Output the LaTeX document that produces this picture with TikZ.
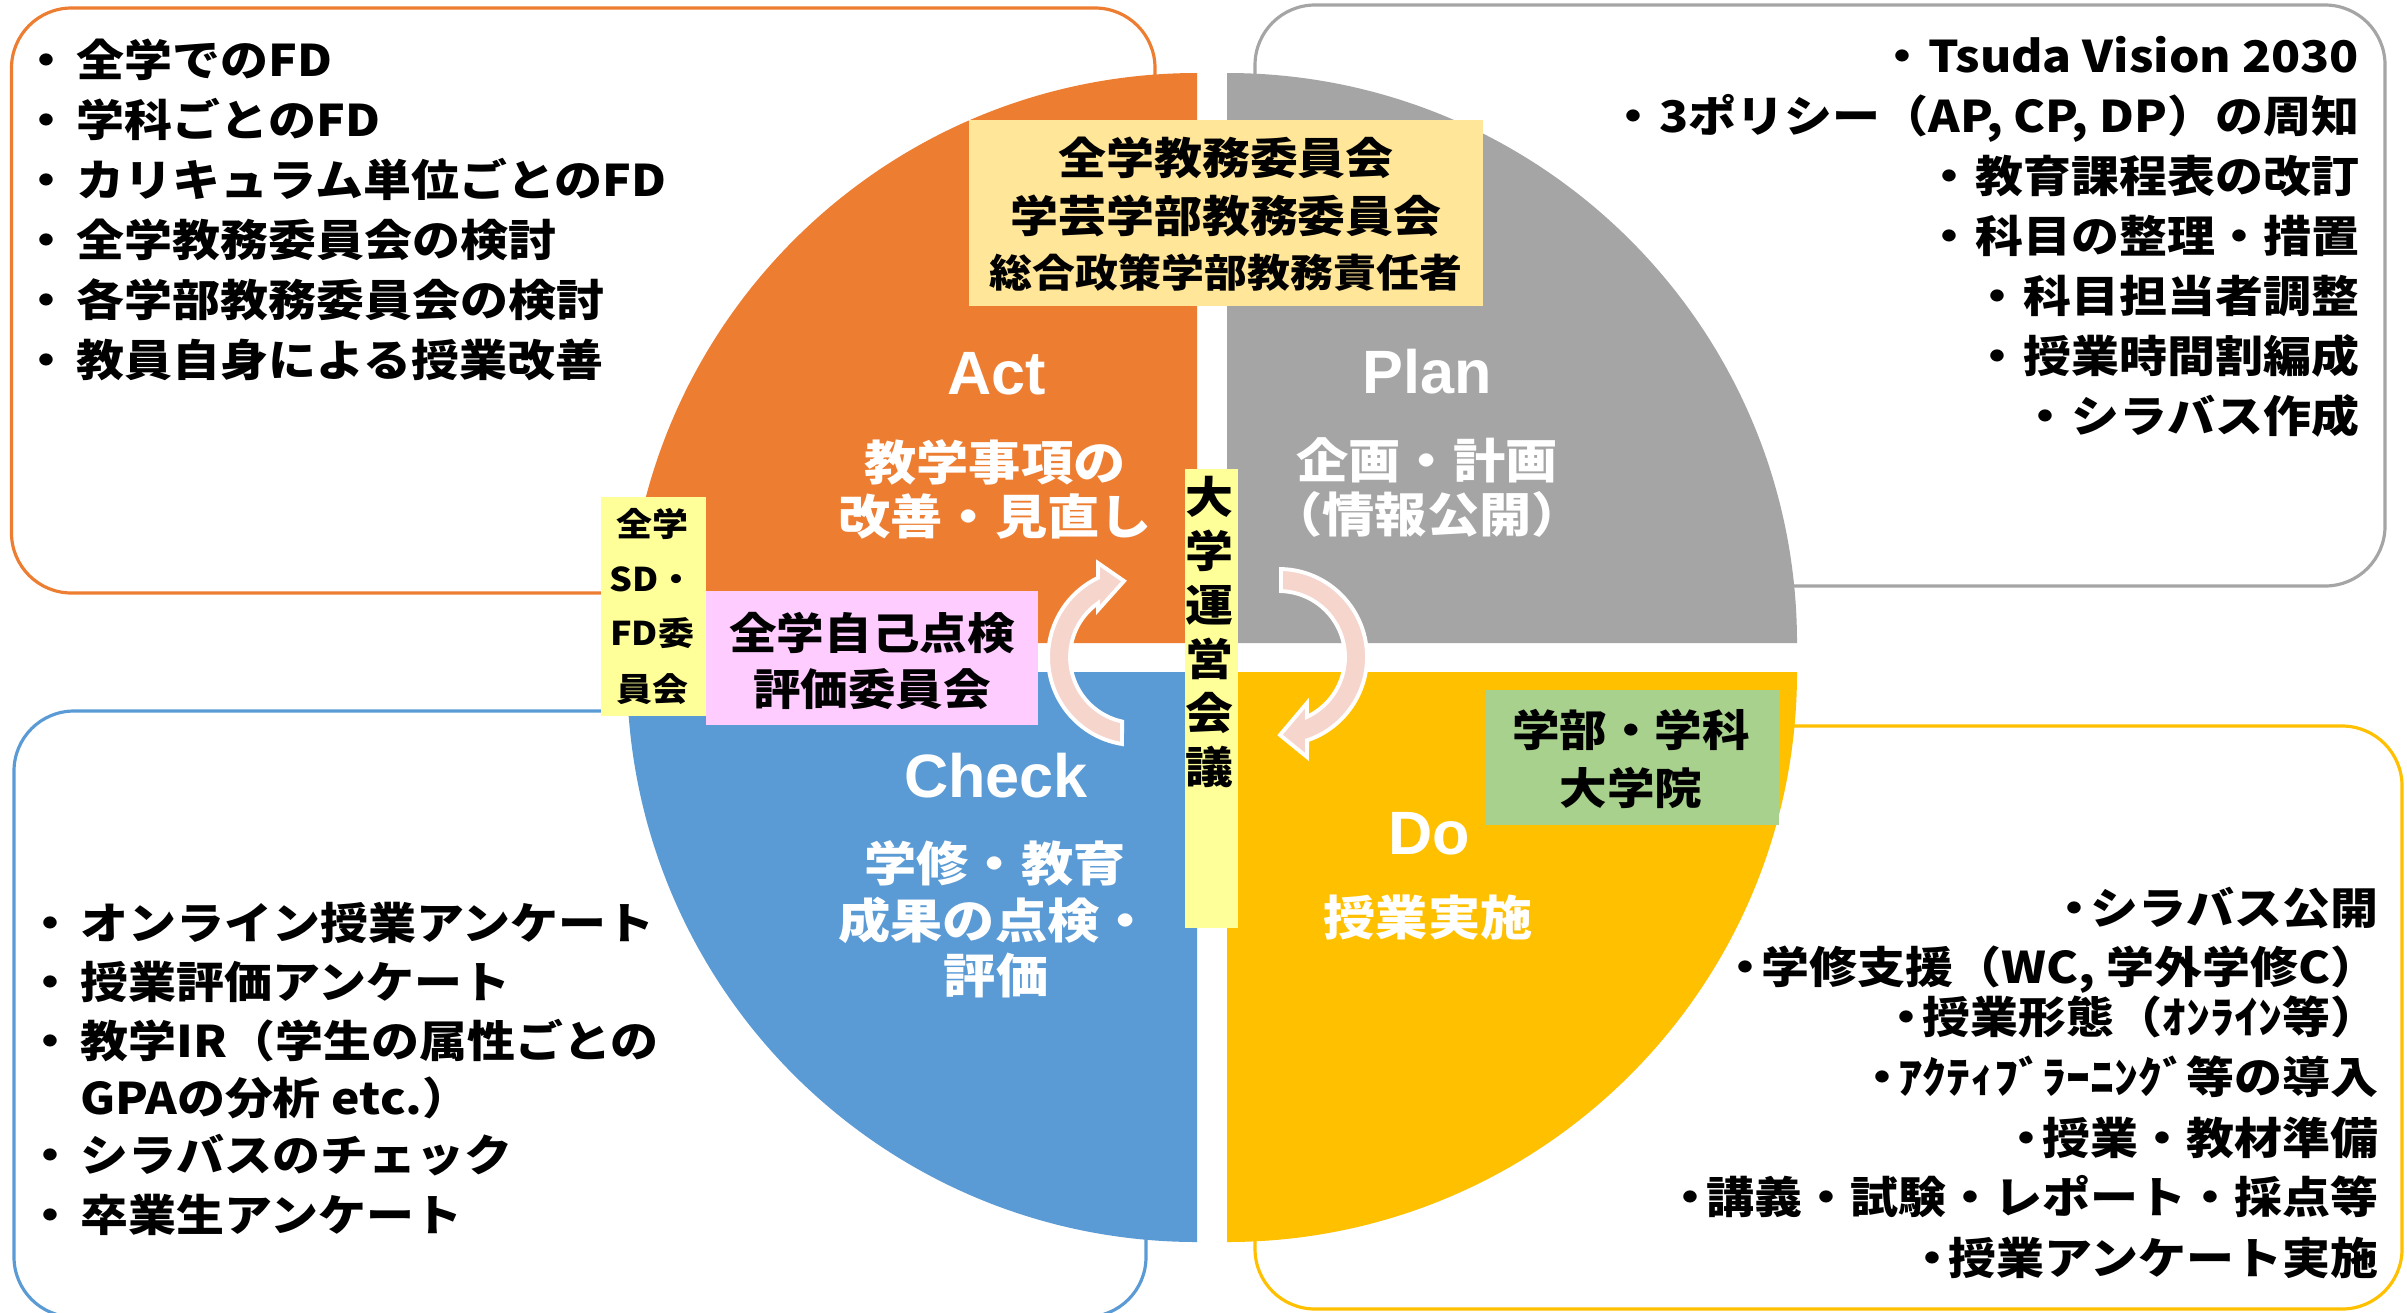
\documentclass[tikz,border=0pt]{standalone}
\usepackage{fontspec}
\newfontfamily\jp{Noto Sans CJK JP}[FakeStretch=1.1]
\newfontfamily\lat{Liberation Sans}
\definecolor{actc}{HTML}{ED7D31}
\definecolor{planc}{HTML}{A5A5A5}
\definecolor{checkc}{HTML}{5B9BD5}
\definecolor{doc}{HTML}{FFC000}
\definecolor{topbox}{HTML}{FFE699}
\definecolor{yelbox}{HTML}{FFFF99}
\definecolor{pinkbox}{HTML}{FFCCFF}
\definecolor{greenbox}{HTML}{A9D18E}
\definecolor{arrowc}{HTML}{F6D5CD}
\newcommand\bul[1]{\makebox[#1][l]{\makebox[0pt]{・}}}
\begin{document}
\begin{tikzpicture}[x=0.01cm,y=-0.01cm,
  every node/.style={inner sep=0pt,outer sep=0pt},
  frame/.style={line width=0.9pt,rounded corners=0.6cm},
  lst/.style={font=\jp\bfseries\fontsize{12.4pt}{15pt}\selectfont,text=black},
  big/.style={font=\lat\bfseries\fontsize{17.4pt}{20pt}\selectfont,text=white,anchor=base},
  sub/.style={font=\jp\bfseries\fontsize{13.5pt}{16pt}\selectfont,text=white,anchor=base},
  lbl/.style={font=\jp\bfseries\fontsize{12.4pt}{15pt}\selectfont,text=black,anchor=base},
  cyc/.style={fill=arrowc,draw=white,line width=1.1pt,line join=miter}]
\useasboundingbox (0,0) rectangle (2407,1312);
\fill[white] (0,0) rectangle (2407,1312);
% outer frames
\draw[frame,actc] (11.5,8) rectangle (1155,593);
\draw[frame,planc] (1255,5) rectangle (2385,586);
\draw[frame,checkc] (14,711) rectangle (1146,1317);
\draw[frame,doc] (1255,726) rectangle (2402,1309);
% quadrants
\fill[actc] (1197,643) -- (627,643) arc[start angle=180,end angle=270,radius=570] -- cycle;
\fill[planc] (1227,643) -- (1797,643) arc[start angle=0,end angle=-90,radius=570] -- cycle;
\fill[checkc] (1197,672) -- (627,672) arc[start angle=180,end angle=90,radius=570] -- cycle;
\fill[doc] (1227,672) -- (1797,672) arc[start angle=0,end angle=90,radius=570] -- cycle;
% label boxes
\fill[topbox] (969,120) rectangle (1483,306);
\fill[yelbox] (601,497) rectangle (706,716);
\fill[pinkbox] (706,591) rectangle (1038,725);
\fill[yelbox] (1185,469) rectangle (1238,928);
\fill[greenbox] (1485,690) rectangle (1779,825);
% cycle arrows
\filldraw[cyc] (1122,744) arc[start angle=99.2,end angle=244.4,radius=88]
  -- (1098,563) -- (1124,581) -- (1098,610) -- (1098,603.1)
  arc[start angle=234.8,end angle=102.2,radius=66] -- cycle;
\filldraw[cyc] (1281,569) arc[start angle=271.3,end angle=431.4,radius=88]
  -- (1307,757) -- (1280,735) -- (1307,703) -- (1307,716.8)
  arc[start angle=424.9,end angle=271.7,radius=66] -- cycle;
% top-left list
\foreach \txt/\yy [count=\i] in {全学でのFD/60, 学科ごとのFD/120, カリキュラム単位ごとのFD/180,
  全学教務委員会の検討/240, 各学部教務委員会の検討/300, 教員自身による授業改善/360}
  \node[lst,anchor=base west] (tl\i) at (46,\yy+16.6) {\bul{8.8pt}\txt};
% top-right list
\foreach \txt/\yy [count=\i] in {{Tsuda Vision 2030}/56, {3ポリシー（AP, CP, DP）の周知}/116,
  教育課程表の改訂/176, 科目の整理・措置/236, 科目担当者調整/296, 授業時間割編成/356, シラバス作成/416}
  \node[lst,anchor=base east] (tr\i) at (2359,\yy+16.6) {\bul{7.4pt}\txt};
% bottom-left list
\foreach \txt/\yy [count=\i] in {オンライン授業アンケート/923, 授業評価アンケート/982,
  教学IR（学生の属性ごとの/1041, シラバスのチェック/1154.5, 卒業生アンケート/1214.5}
  \node[lst,anchor=base west] (bl\i) at (50,\yy+16.6) {\bul{8.8pt}\txt};
\node[lst,anchor=base west] (blgpa) at (80,1097.5+16.6) {GPAの分析 etc.）};
% bottom-right list
\foreach \txt/\yy [count=\i] in {シラバス公開/907.5, {学修支援（WC, 学外学修C）}/966.6,
  授業形態（ｵﾝﾗｲﾝ等）/1017, ｱｸﾃｨﾌﾞﾗｰﾆﾝｸﾞ等の導入/1077, 授業・教材準備/1137.6,
  講義・試験・レポート・採点等/1196.7, 授業アンケート実施/1258}
  \node[lst,anchor=base east] (br\i) at (2378,\yy+16.6) {\bul{4.6pt}\txt};
% quadrant labels
\node[big] (act) at (997,394) {Act};
\node[sub] (act1) at (995,480) {教学事項の};
\node[sub] (act2) at (995,534) {改善・見直し};
\node[big] (plan) at (1427,393) {Plan};
\node[sub] (plan1) at (1427,478) {企画・計画};
\node[sub] (plan2) at (1427,532) {（情報公開）};
\node[big] (check) at (996,797) {Check};
\node[sub] (check1) at (995,881) {学修・教育};
\node[sub] (check2) at (995,938) {成果の点検・};
\node[sub] (check3) at (996,993) {評価};
\node[big] (do) at (1429,854) {Do};
\node[sub] (do1) at (1428,935) {授業実施};
% box labels
\node[lbl] (top1) at (1226,174.6) {全学教務委員会};
\node[lbl] (top2) at (1226,232) {学芸学部教務委員会};
\node[lbl,font=\jp\bfseries\fontsize{11.1pt}{14pt}\selectfont] (top3) at (1226,287) {総合政策学部教務責任者};
\foreach \txt/\yy [count=\i] in {全学/524.5, SD・/579, FD委/633, 員会/689}
  \node[lbl,font=\jp\bfseries\fontsize{9.3pt}{12pt}\selectfont] (sd\i) at (652,\yy+12.4) {\txt};
\node[lbl,font=\jp\bfseries\fontsize{12.3pt}{15pt}\selectfont] (pk1) at (872,649.4) {全学自己点検};
\node[lbl,font=\jp\bfseries\fontsize{12.3pt}{15pt}\selectfont] (pk2) at (872,705.4) {評価委員会};
\foreach \c [count=\i] in {大,学,運,営,会,議}
  \node[lbl] (v\i) at (1209,497+54*\i-54+16.6) {\c};
\node[lbl,font=\jp\bfseries\fontsize{12.3pt}{15pt}\selectfont] (gr1) at (1631,746.4) {学部・学科};
\node[lbl,font=\jp\bfseries\fontsize{12.3pt}{15pt}\selectfont] (gr2) at (1631,804.4) {大学院};
\end{tikzpicture}
\end{document}
